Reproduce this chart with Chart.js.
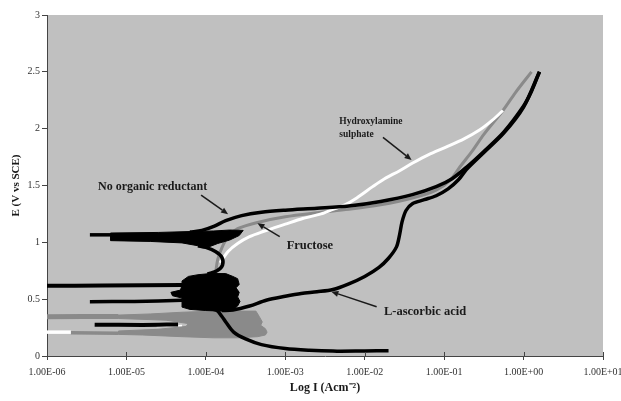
<!DOCTYPE html>
<html>
<head>
<meta charset="utf-8">
<script src="https://cdn.jsdelivr.net/npm/chart.js@4"></script>
<style>
  html, body { margin: 0; padding: 0; background: #fff; }
  #chart { display: block; }
</style>
</head>
<body>
<canvas id="chart" width="621" height="401"></canvas>
<script>
// points are [log10 I, E (V vs SCE)]
const noReductantLow = [[-3.98,0.42],[-3.86,0.40],[-3.8,0.35],[-3.74,0.29],[-3.65,0.21],[-3.5,0.15],[-3.3,0.10],[-3.0,0.065],[-2.7,0.05],[-2.4,0.043],[-2.0,0.045],[-1.7,0.047]];
const noReductantLoop = [[-3.98,0.72],[-3.86,0.75],[-3.79,0.8],[-3.8,0.87],[-3.88,0.92],[-4.0,0.955],[-4.1,0.97]];
const noReductantHigh = [[-4.2,1.09],[-4.05,1.105],[-3.9,1.14],[-3.75,1.19],[-3.55,1.235],[-3.3,1.265],[-3.0,1.283],[-2.6,1.3],[-2.2,1.32],[-1.8,1.36],[-1.4,1.42],[-1.1,1.49],[-0.9,1.56],[-0.72,1.66],[-0.5,1.8],[-0.25,1.97],[0.0,2.2],[0.1,2.33],[0.2,2.5]];
const ascorbicAcid = [[-3.8,0.40],[-3.66,0.405],[-3.45,0.44],[-3.24,0.49],[-3.0,0.525],[-2.8,0.55],[-2.6,0.565],[-2.4,0.585],[-2.2,0.635],[-2.0,0.70],[-1.82,0.78],[-1.7,0.86],[-1.6,0.96],[-1.56,1.07],[-1.53,1.18],[-1.48,1.28],[-1.4,1.34],[-1.25,1.375],[-1.1,1.41],[-0.95,1.47],[-0.82,1.55],[-0.72,1.64],[-0.5,1.79],[-0.25,1.96],[0.0,2.19],[0.2,2.5]];
const fructose = [[-3.88,0.72],[-3.85,0.85],[-3.8,0.95],[-3.72,1.05],[-3.6,1.12],[-3.35,1.175],[-3.0,1.225],[-2.6,1.26],[-2.2,1.29],[-1.8,1.33],[-1.4,1.39],[-1.1,1.46],[-0.92,1.55],[-0.8,1.665],[-0.65,1.8],[-0.5,1.95],[-0.26,2.16],[-0.1,2.32],[0.1,2.5]];
const hydroxylamine = [[-3.82,0.82],[-3.72,0.92],[-3.6,0.99],[-3.45,1.05],[-3.28,1.095],[-3.0,1.16],[-2.78,1.21],[-2.55,1.25],[-2.4,1.29],[-2.25,1.33],[-2.1,1.39],[-1.9,1.49],[-1.75,1.56],[-1.56,1.63],[-1.39,1.70],[-1.2,1.77],[-0.97,1.84],[-0.75,1.91],[-0.55,1.99],[-0.4,2.07],[-0.26,2.16]];

// short traces at low potential
const hydroxylamineLow = [[-6,0.21],[-5.7,0.21]];
const hydroxylamineTip = [[-4.62,0.26],[-4.3,0.268]];
const fructoseBand = [[-6,0.345],[-5.1,0.348]];
const fructoseLowLine = [[-5.7,0.205],[-5.1,0.20]];
const blackLine107 = [[-5.46,1.066],[-5.2,1.066]];
const blackLine062 = [[-6,0.618],[-5.3,0.62],[-4.3,0.625]];
const blackLine048 = [[-5.46,0.478],[-4.9,0.48],[-4.3,0.49]];
const blackLine027 = [[-5.4,0.276],[-4.8,0.273],[-4.35,0.278]];

// noisy regions, outlined
const fructoseNoise = [[-5.1,0.33],[-5.1,0.36],[-4.7,0.37],[-4.3,0.385],[-3.9,0.395],[-3.37,0.395],[-3.33,0.35],[-3.29,0.30],[-3.31,0.27],[-3.25,0.24],[-3.23,0.21],[-3.25,0.185],[-3.35,0.17],[-3.6,0.16],[-3.9,0.16],[-4.3,0.17],[-4.8,0.185],[-5.1,0.19],[-5.1,0.22],[-4.6,0.235],[-4.25,0.26],[-4.22,0.285],[-4.5,0.315]];
const blackNoiseHigh = [[-5.2,1.082],[-4.6,1.087],[-4.2,1.095],[-3.9,1.1],[-3.7,1.108],[-3.53,1.105],[-3.58,1.06],[-3.7,1.02],[-3.85,0.99],[-3.98,0.955],[-4.1,0.97],[-4.3,0.995],[-4.7,1.008],[-5.2,1.015]];
const blackNoiseLow = [[-4.3,0.66],[-4.22,0.70],[-4.1,0.715],[-3.95,0.725],[-3.75,0.725],[-3.66,0.70],[-3.6,0.68],[-3.58,0.63],[-3.62,0.6],[-3.58,0.56],[-3.6,0.52],[-3.57,0.48],[-3.6,0.44],[-3.65,0.41],[-3.8,0.395],[-4.0,0.4],[-4.2,0.41],[-4.3,0.43],[-4.3,0.51],[-4.42,0.53],[-4.44,0.56],[-4.32,0.58],[-4.3,0.62]];

const xTicks = [-6, -5, -4, -3, -2, -1, 0, 1];

// labels and arrows on the plot
const noteText = ['No organic reductant', 'Fructose', 'Hydroxylamine', 'sulphate', 'L-ascorbic acid'];
const noteX = [-4.67, -2.69, -2.32, -2.32, -1.24];
const noteY = [1.49, 0.967, 2.061, 1.95, 0.387];
const noteAlign = ['center', 'center', 'left', 'left', 'center'];
const noteSize = [12, 12.5, 9.5, 9.5, 12.5];
const arrowFrom = [[-4.06,1.416],[-3.07,1.05],[-1.77,1.923],[-1.85,0.434]];
const arrowTo = [[-3.72,1.248],[-3.35,1.167],[-1.41,1.724],[-2.42,0.566]];

const SERIF = '"Liberation Serif", "Times New Roman", serif';

function toXY(points) {
    return points.map(p => ({x: p[0], y: p[1]}));
}

function curve(points, color, width, order) {
    return {
        data: toXY(points),
        borderColor: color,
        borderWidth: width,
        pointRadius: 0,
        tension: 0.3,
        fill: false,
        order: order
    };
}

function patch(points, color, order) {
    const closed = points.concat([points[0]]);
    return {
        data: toXY(closed),
        borderColor: color,
        backgroundColor: color,
        borderWidth: 1,
        pointRadius: 0,
        tension: 0,
        fill: 'shape',
        order: order
    };
}

function tickLabel(v) {
    const n = Math.round(v);
    return '1.00E' + (n < 0 ? '-' : '+') + String(Math.abs(n)).padStart(2, '0');
}

const notesPlugin = {
    id: 'notes',
    beforeDraw(chart) {
        const a = chart.chartArea;
        const ctx = chart.ctx;
        ctx.save();
        ctx.fillStyle = '#c0c0c0';
        ctx.fillRect(a.left, a.top, a.right - a.left, a.bottom - a.top);
        ctx.restore();
    },
    afterDatasetsDraw(chart) {
        const ctx = chart.ctx;
        const xs = chart.scales.x, ys = chart.scales.y;
        ctx.save();
        // x ticks cross the axis line
        ctx.strokeStyle = '#444';
        ctx.lineWidth = 1;
        xTicks.forEach(v => {
            const px = Math.round(xs.getPixelForValue(v)) + 0.5;
            ctx.beginPath();
            ctx.moveTo(px, chart.chartArea.bottom - 4);
            ctx.lineTo(px, chart.chartArea.bottom);
            ctx.stroke();
        });
        ctx.fillStyle = '#1a1a1a';
        ctx.strokeStyle = '#1a1a1a';
        ctx.textBaseline = 'middle';
        for (let i = 0; i < noteText.length; i++) {
            ctx.font = 'bold ' + noteSize[i] + 'px ' + SERIF;
            ctx.textAlign = noteAlign[i];
            ctx.fillText(noteText[i], xs.getPixelForValue(noteX[i]), ys.getPixelForValue(noteY[i]));
        }
        ctx.lineWidth = 1.5;
        for (let i = 0; i < arrowFrom.length; i++) {
            const x1 = xs.getPixelForValue(arrowFrom[i][0]), y1 = ys.getPixelForValue(arrowFrom[i][1]);
            const x2 = xs.getPixelForValue(arrowTo[i][0]), y2 = ys.getPixelForValue(arrowTo[i][1]);
            const ang = Math.atan2(y2 - y1, x2 - x1);
            const len = 7, half = 3;
            const bx = x2 - len * Math.cos(ang), by = y2 - len * Math.sin(ang);
            ctx.beginPath();
            ctx.moveTo(x1, y1);
            ctx.lineTo(bx, by);
            ctx.stroke();
            ctx.beginPath();
            ctx.moveTo(x2, y2);
            ctx.lineTo(bx + half * Math.sin(ang), by - half * Math.cos(ang));
            ctx.lineTo(bx - half * Math.sin(ang), by + half * Math.cos(ang));
            ctx.closePath();
            ctx.fill();
        }
        ctx.restore();
    }
};

const datasets = [
    patch(fructoseNoise, '#8a8a8a', 20),
    curve(fructoseBand, '#8a8a8a', 5, 19),
    curve(fructoseLowLine, '#8a8a8a', 3.5, 19),
    curve(hydroxylamineLow, '#ffffff', 3.5, 18),
    curve(hydroxylamineTip, '#ffffff', 1.5, 18),
    curve(fructose, '#8a8a8a', 3, 16),
    curve(hydroxylamine, '#ffffff', 3, 15),
    patch(blackNoiseHigh, '#000000', 5),
    patch(blackNoiseLow, '#000000', 5),
    curve(blackLine107, '#000000', 3.5, 4),
    curve(blackLine062, '#000000', 4, 4),
    curve(blackLine048, '#000000', 3.5, 4),
    curve(blackLine027, '#000000', 4, 4),
    curve(noReductantLow, '#000000', 3.5, 3),
    curve(noReductantLoop, '#000000', 3.5, 3),
    curve(ascorbicAcid, '#000000', 3.5, 2),
    curve(noReductantHigh, '#000000', 3.5, 1)
];

const ctx = document.getElementById('chart').getContext('2d');
new Chart(ctx, {
    type: 'line',
    data: { datasets: datasets },
    plugins: [notesPlugin],
    options: {
        responsive: false,
        animation: false,
        devicePixelRatio: 1,
        layout: { padding: { top: 15, right: 18, left: 0, bottom: 0 } },
        plugins: { legend: { display: false }, tooltip: { enabled: false } },
        scales: {
            x: {
                type: 'linear',
                min: -6,
                max: 1,
                afterBuildTicks: scale => { scale.ticks = xTicks.map(v => ({value: v})); },
                afterFit: scale => { scale.height = 45; scale.paddingLeft = 0; scale.paddingRight = 0; },
                grid: { drawOnChartArea: false, tickLength: 4, color: '#444' },
                border: { color: '#444' },
                ticks: {
                    maxRotation: 0,
                    autoSkip: false,
                    padding: 6,
                    color: '#333',
                    font: { family: SERIF, size: 10 },
                    callback: v => tickLabel(v)
                },
                title: {
                    display: true,
                    text: 'Log I (Acm⁻²)',
                    color: '#1a1a1a',
                    padding: { top: 0, bottom: 6 },
                    font: { family: SERIF, size: 12, weight: 'bold' }
                }
            },
            y: {
                min: 0,
                max: 3,
                afterFit: scale => { scale.width = 47; scale.paddingTop = 0; scale.paddingBottom = 0; },
                grid: { drawOnChartArea: false, tickLength: 5, color: '#444' },
                border: { color: '#444' },
                ticks: {
                    stepSize: 0.5,
                    padding: 2,
                    color: '#333',
                    font: { family: SERIF, size: 10 },
                    callback: v => String(Math.round(v * 10) / 10)
                },
                title: {
                    display: true,
                    text: 'E (V vs SCE)',
                    color: '#1a1a1a',
                    padding: { top: 10, bottom: 0 },
                    font: { family: SERIF, size: 11, weight: 'bold' }
                }
            }
        }
    }
});
</script>
</body>
</html>
